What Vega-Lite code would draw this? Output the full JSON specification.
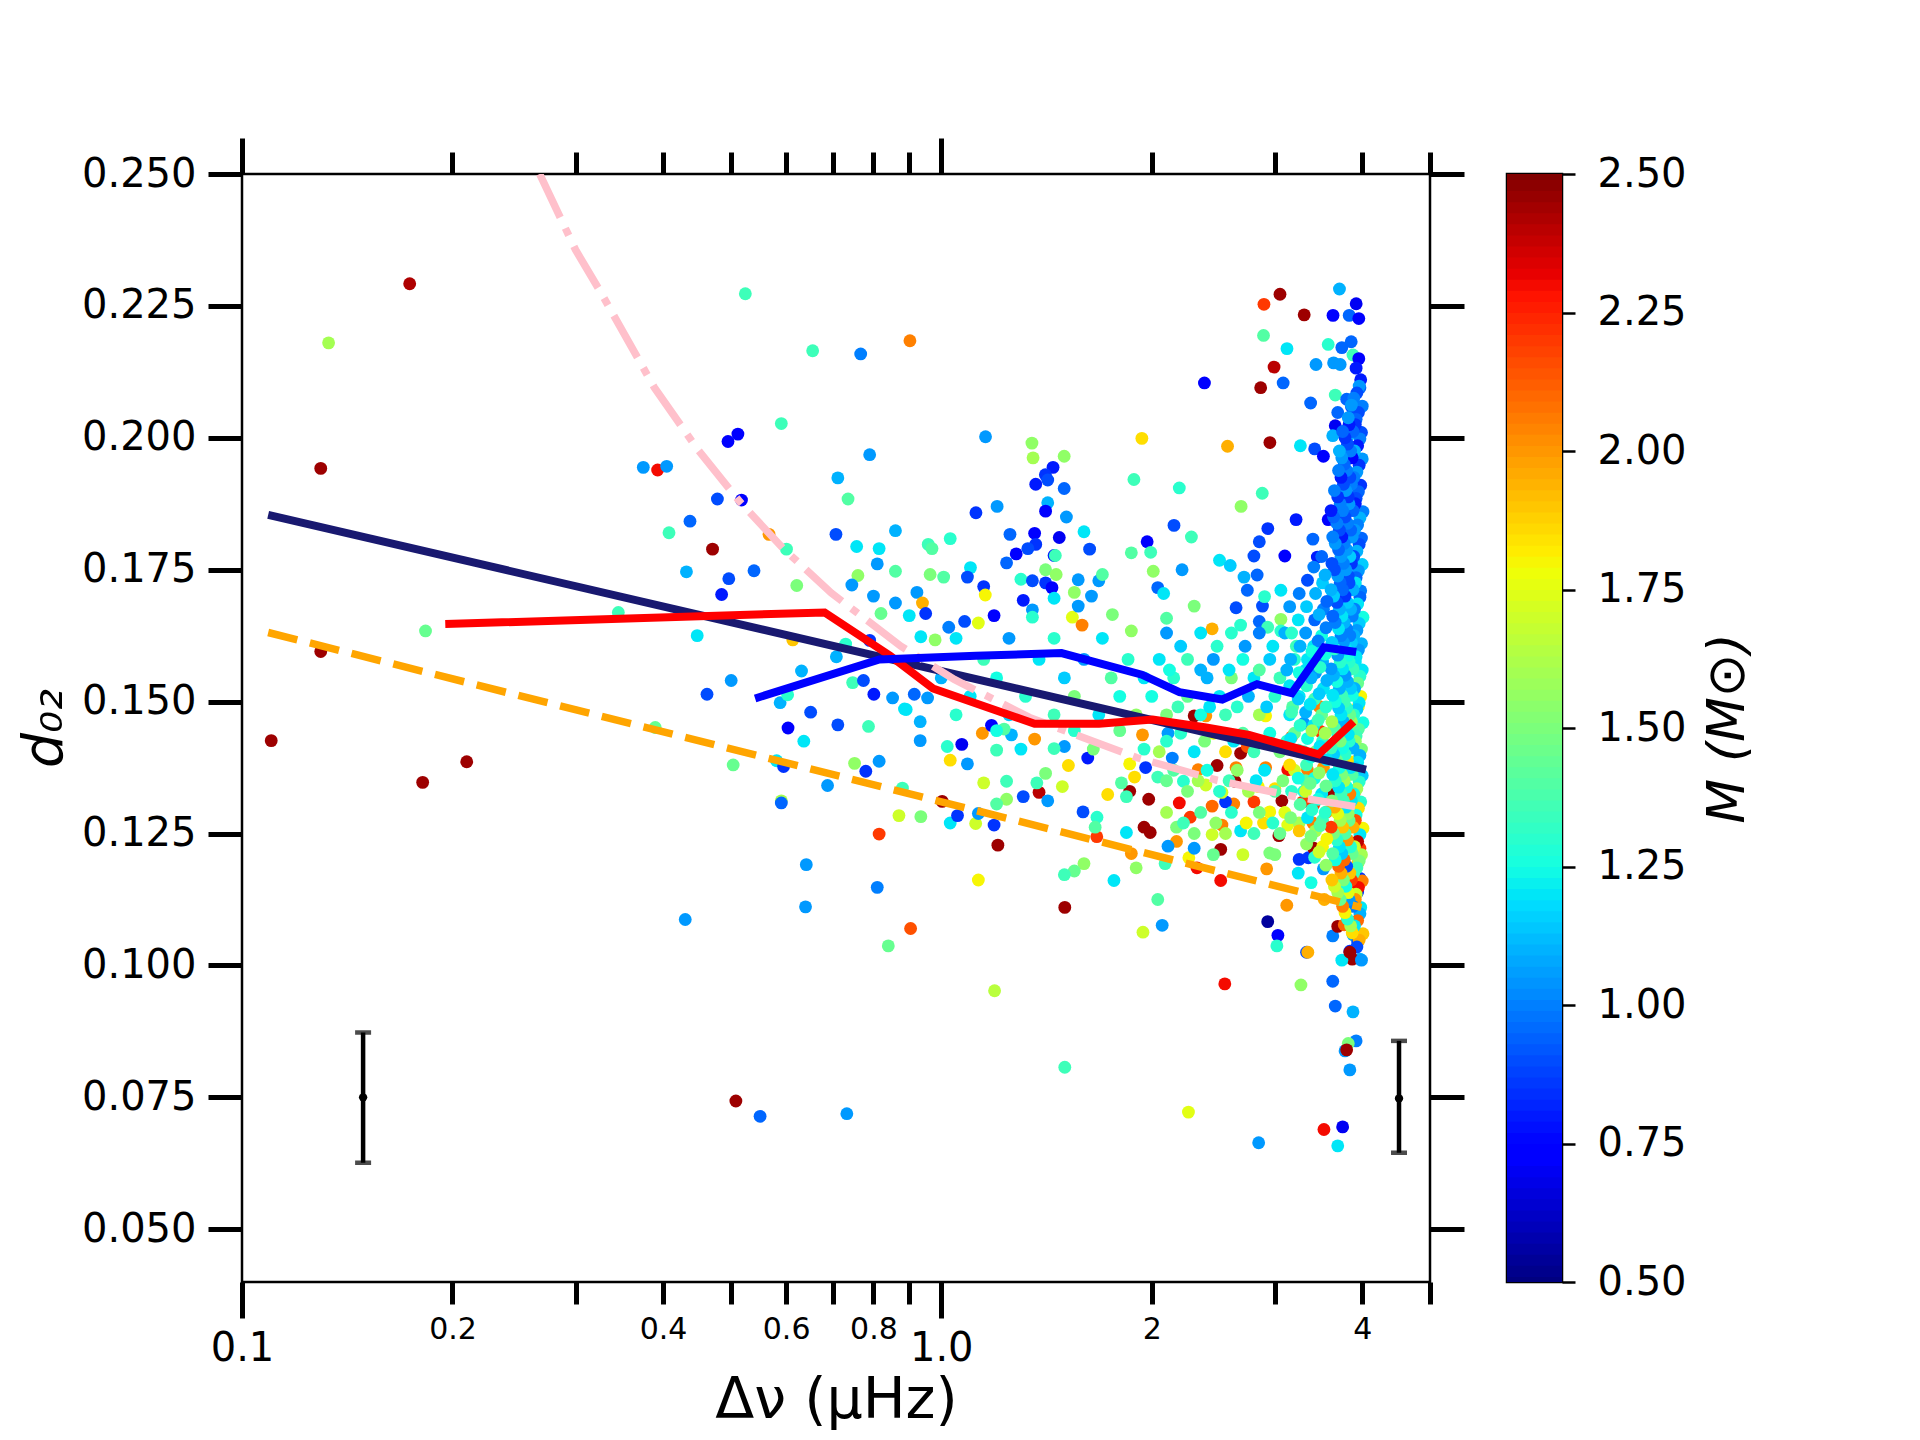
{
  "$schema": "https://vega.github.io/schema/vega-lite/v6.json",
  "background": "white",
  "padding": {"left": 16, "top": 134, "right": 0, "bottom": 0},
  "config": {
    "view": {"stroke": "black", "strokeWidth": 2.5},
    "font": "DejaVu Sans",
    "axis": {"domain": false, "grid": false, "labelColor": "black", "titleColor": "black", "tickColor": "black", "labelFont": "DejaVu Sans", "titleFont": "DejaVu Sans", "titleFontWeight": "normal"}
  },
  "datasets": {
    "stars": [
      {"dnu":0.1737,"d02":0.2292,"M":2.42},{"dnu":0.133,"d02":0.218,"M":1.6},{"dnu":0.1296,"d02":0.1942,"M":2.45},{"dnu":0.183,"d02":0.1634,"M":1.45},
      {"dnu":0.1296,"d02":0.1595,"M":2.45},{"dnu":0.1101,"d02":0.1426,"M":2.45},{"dnu":0.1813,"d02":0.1347,"M":2.45},{"dnu":0.2096,"d02":0.1386,"M":2.45},
      {"dnu":0.5246,"d02":0.2273,"M":1.35},{"dnu":0.6548,"d02":0.2165,"M":1.35},{"dnu":0.767,"d02":0.2159,"M":1.0},{"dnu":0.5906,"d02":0.2027,"M":1.35},
      {"dnu":0.4955,"d02":0.1993,"M":0.75},{"dnu":0.5119,"d02":0.2007,"M":0.75},{"dnu":0.3749,"d02":0.1944,"M":1.05},{"dnu":0.393,"d02":0.1939,"M":2.3},
      {"dnu":0.4049,"d02":0.1946,"M":1.05},{"dnu":0.4785,"d02":0.1884,"M":0.9},{"dnu":0.518,"d02":0.1882,"M":0.75},{"dnu":0.4372,"d02":0.1842,"M":0.95},
      {"dnu":0.408,"d02":0.182,"M":1.35},{"dnu":0.4709,"d02":0.1789,"M":2.45},{"dnu":0.5672,"d02":0.1817,"M":2.0},{"dnu":0.6007,"d02":0.1789,"M":1.35},
      {"dnu":0.4321,"d02":0.1746,"M":1.1},{"dnu":0.4968,"d02":0.1733,"M":0.9},{"dnu":0.4852,"d02":0.1703,"M":0.8},{"dnu":0.5398,"d02":0.1748,"M":0.95},
      {"dnu":0.6214,"d02":0.172,"M":1.5},{"dnu":0.707,"d02":0.1817,"M":0.9},{"dnu":0.7114,"d02":0.1924,"M":1.1},{"dnu":0.7357,"d02":0.1884,"M":1.4},
      {"dnu":0.7569,"d02":0.1794,"M":1.2},{"dnu":0.3453,"d02":0.1669,"M":1.35},{"dnu":0.4477,"d02":0.1625,"M":1.2},{"dnu":0.6133,"d02":0.1617,"M":1.9},
      {"dnu":0.6312,"d02":0.1558,"M":1.1},{"dnu":0.5007,"d02":0.154,"M":1.05},{"dnu":0.4624,"d02":0.1514,"M":0.9},{"dnu":0.5883,"d02":0.1498,"M":1.1},
      {"dnu":0.603,"d02":0.1513,"M":1.3},{"dnu":0.6505,"d02":0.148,"M":0.9},{"dnu":0.6038,"d02":0.145,"M":0.75},{"dnu":0.636,"d02":0.1425,"M":1.2},
      {"dnu":0.7114,"d02":0.1456,"M":0.9},{"dnu":0.3899,"d02":0.1451,"M":1.45},{"dnu":0.504,"d02":0.138,"M":1.45},{"dnu":0.5815,"d02":0.1388,"M":1.2},
      {"dnu":0.595,"d02":0.1377,"M":0.85},{"dnu":0.6877,"d02":0.1341,"M":1.05},{"dnu":0.5906,"d02":0.1312,"M":1.6},{"dnu":0.5906,"d02":0.1308,"M":0.95},
      {"dnu":0.7517,"d02":0.1383,"M":1.55},{"dnu":0.6412,"d02":0.1191,"M":1.05},{"dnu":0.6396,"d02":0.1111,"M":1.05},{"dnu":0.4304,"d02":0.1087,"M":1.05},
      {"dnu":0.5085,"d02":0.0743,"M":2.45},{"dnu":0.5507,"d02":0.0714,"M":0.95},{"dnu":0.7328,"d02":0.0719,"M":1.05},
      {"dnu":0.787,"d02":0.1453,"M":1.35},{"dnu":0.886,"d02":0.1486,"M":1.2},{"dnu":0.933,"d02":0.1462,"M":1.1},{"dnu":0.933,"d02":0.1426,"M":1.05},
      {"dnu":0.815,"d02":0.1387,"M":1.05},{"dnu":0.78,"d02":0.1368,"M":0.85},{"dnu":0.88,"d02":0.1336,"M":1.35},{"dnu":1.003,"d02":0.1311,"M":2.45},
      {"dnu":0.87,"d02":0.1284,"M":1.7},{"dnu":0.935,"d02":0.1282,"M":1.5},{"dnu":1.03,"d02":0.127,"M":1.2},{"dnu":1.055,"d02":0.1284,"M":0.85},
      {"dnu":1.12,"d02":0.1269,"M":1.7},{"dnu":1.19,"d02":0.1266,"M":0.85},{"dnu":1.205,"d02":0.1228,"M":2.45},{"dnu":0.815,"d02":0.1249,"M":2.2},
      {"dnu":0.81,"d02":0.1148,"M":1.0},{"dnu":0.904,"d02":0.107,"M":2.15},{"dnu":0.84,"d02":0.1037,"M":1.45},{"dnu":1.13,"d02":0.1162,"M":1.8},
      {"dnu":1.192,"d02":0.0952,"M":1.65},{"dnu":1.502,"d02":0.111,"M":2.45},{"dnu":1.502,"d02":0.0807,"M":1.35},{"dnu":2.257,"d02":0.0722,"M":1.75},
      {"dnu":2.844,"d02":0.0664,"M":1.05},{"dnu":3.526,"d02":0.0689,"M":2.3},{"dnu":3.75,"d02":0.0694,"M":0.7},{"dnu":3.69,"d02":0.0658,"M":1.2},
      {"dnu":2.544,"d02":0.0965,"M":2.3},{"dnu":3.269,"d02":0.0963,"M":1.55},{"dnu":3.63,"d02":0.097,"M":0.95},{"dnu":3.66,"d02":0.0923,"M":0.95},
      {"dnu":3.88,"d02":0.0912,"M":1.1},{"dnu":3.92,"d02":0.0857,"M":1.0},{"dnu":3.82,"d02":0.0852,"M":1.5},{"dnu":3.78,"d02":0.0838,"M":1.05},
      {"dnu":3.8,"d02":0.084,"M":2.45},{"dnu":3.84,"d02":0.0802,"M":1.05},{"dnu":2.93,"d02":0.1083,"M":0.55},{"dnu":3.03,"d02":0.1057,"M":0.75},
      {"dnu":3.02,"d02":0.1037,"M":1.3},{"dnu":3.33,"d02":0.1025,"M":0.9},{"dnu":3.344,"d02":0.1025,"M":1.95},{"dnu":3.63,"d02":0.1056,"M":1.0},
      {"dnu":3.69,"d02":0.1074,"M":2.45},{"dnu":3.77,"d02":0.1077,"M":2.1},{"dnu":3.88,"d02":0.1058,"M":1.1},{"dnu":3.94,"d02":0.1045,"M":0.9},
      {"dnu":3.84,"d02":0.1027,"M":0.85},{"dnu":3.97,"d02":0.1012,"M":1.1},{"dnu":3.87,"d02":0.1012,"M":2.45},{"dnu":3.74,"d02":0.101,"M":1.2},
      {"dnu":1.943,"d02":0.1063,"M":1.7},{"dnu":2.07,"d02":0.1076,"M":1.05},{"dnu":2.04,"d02":0.1125,"M":1.4},{"dnu":1.766,"d02":0.1161,"M":1.2},
      {"dnu":1.6,"d02":0.1193,"M":1.55},{"dnu":1.55,"d02":0.1179,"M":1.45},{"dnu":1.5,"d02":0.1172,"M":1.35},{"dnu":1.9,"d02":0.1185,"M":1.55},
      {"dnu":2.09,"d02":0.1193,"M":1.35},{"dnu":2.321,"d02":0.1185,"M":2.3},{"dnu":2.51,"d02":0.1161,"M":2.3},{"dnu":2.26,"d02":0.1204,"M":1.8},
      {"dnu":2.92,"d02":0.1183,"M":2.0},{"dnu":3.12,"d02":0.1114,"M":2.0},{"dnu":3.53,"d02":0.1125,"M":1.95},{"dnu":3.75,"d02":0.1125,"M":1.1},
      {"dnu":3.25,"d02":0.1201,"M":0.85},{"dnu":3.35,"d02":0.1204,"M":0.85},{"dnu":3.52,"d02":0.1183,"M":1.05},{"dnu":3.24,"d02":0.1175,"M":1.2},
      {"dnu":3.38,"d02":0.1157,"M":1.25},{"dnu":3.7,"d02":0.115,"M":1.85},{"dnu":3.85,"d02":0.1175,"M":2.0},{"dnu":3.94,"d02":0.1193,"M":1.9},
      {"dnu":3.71,"d02":0.1193,"M":1.85},{"dnu":3.94,"d02":0.1139,"M":0.85},{"dnu":3.97,"d02":0.1165,"M":0.85},{"dnu":2.95,"d02":0.1213,"M":1.5},
      {"dnu":3.41,"d02":0.1222,"M":2.45},{"dnu":2.51,"d02":0.122,"M":2.45},{"dnu":3.04,"d02":0.1246,"M":2.45},{"dnu":3.69,"d02":0.1259,"M":2.45},
      {"dnu":3.97,"d02":0.1222,"M":2.2},{"dnu":2.17,"d02":0.1235,"M":2.0},{"dnu":2.11,"d02":0.1226,"M":1.05},{"dnu":2.3,"d02":0.1222,"M":1.05},
      {"dnu":2.44,"d02":0.1248,"M":1.7},{"dnu":2.27,"d02":0.1281,"M":2.2},{"dnu":2.19,"d02":0.1308,"M":2.3},{"dnu":1.98,"d02":0.1315,"M":2.45},
      {"dnu":1.86,"d02":0.133,"M":2.45},{"dnu":1.95,"d02":0.1262,"M":2.45},{"dnu":1.99,"d02":0.1252,"M":2.45},{"dnu":1.669,"d02":0.1244,"M":2.2},
      {"dnu":1.84,"d02":0.1252,"M":1.2},{"dnu":1.87,"d02":0.1212,"M":2.0},{"dnu":2.17,"d02":0.1262,"M":1.5},{"dnu":2.52,"d02":0.1266,"M":2.05},
      {"dnu":2.68,"d02":0.1255,"M":1.2},{"dnu":2.44,"d02":0.1302,"M":2.1},{"dnu":2.62,"d02":0.1306,"M":2.05},{"dnu":2.8,"d02":0.131,"M":2.2},
      {"dnu":3.07,"d02":0.1312,"M":2.45},{"dnu":3.29,"d02":0.131,"M":2.2},{"dnu":2.95,"d02":0.1291,"M":1.8},{"dnu":2.89,"d02":0.127,"M":1.85},
      {"dnu":3.13,"d02":0.1266,"M":1.75},{"dnu":3.4,"d02":0.127,"M":2.05},{"dnu":3.56,"d02":0.1291,"M":2.0},{"dnu":3.9,"d02":0.1328,"M":2.05},
      {"dnu":3.62,"d02":0.1324,"M":2.45},{"dnu":3.72,"d02":0.1357,"M":2.3},{"dnu":3.9,"d02":0.1386,"M":1.8},{"dnu":3.34,"d02":0.1371,"M":2.05},
      {"dnu":3.13,"d02":0.1371,"M":2.3},{"dnu":2.68,"d02":0.1402,"M":2.45},{"dnu":2.74,"d02":0.1415,"M":2.15},{"dnu":2.48,"d02":0.1379,"M":2.45},
      {"dnu":2.64,"d02":0.1375,"M":2.05},{"dnu":2.63,"d02":0.1349,"M":2.45},{"dnu":2.3,"d02":0.1473,"M":2.45},{"dnu":2.39,"d02":0.1473,"M":2.0},
      {"dnu":3.47,"d02":0.1491,"M":2.05},{"dnu":3.95,"d02":0.1491,"M":1.8},{"dnu":3.72,"d02":0.1422,"M":2.45},{"dnu":3.48,"d02":0.1444,"M":2.2},
      {"dnu":1.94,"d02":0.1437,"M":2.0},{"dnu":2.11,"d02":0.144,"M":1.05},{"dnu":1.145,"d02":0.144,"M":2.0},{"dnu":1.18,"d02":0.1455,"M":0.75},
      {"dnu":1.07,"d02":0.1419,"M":0.7},{"dnu":1.03,"d02":0.1389,"M":1.85},{"dnu":1.09,"d02":0.1382,"M":1.05},{"dnu":1.02,"d02":0.1415,"M":1.3},
      {"dnu":1.15,"d02":0.1346,"M":1.7},{"dnu":1.24,"d02":0.1349,"M":1.35},{"dnu":1.24,"d02":0.1315,"M":1.55},{"dnu":1.31,"d02":0.132,"M":0.9},
      {"dnu":1.38,"d02":0.1328,"M":2.4},{"dnu":1.42,"d02":0.1312,"M":1.05},{"dnu":1.37,"d02":0.1346,"M":1.35},{"dnu":1.41,"d02":0.1364,"M":1.5},
      {"dnu":1.49,"d02":0.1339,"M":1.7},{"dnu":1.52,"d02":0.1379,"M":1.85},{"dnu":1.62,"d02":0.1393,"M":0.8},{"dnu":1.5,"d02":0.1415,"M":1.05},
      {"dnu":1.45,"d02":0.1411,"M":1.35},{"dnu":1.36,"d02":0.1429,"M":2.0},{"dnu":1.26,"d02":0.1437,"M":1.1},{"dnu":1.23,"d02":0.1448,"M":1.4},
      {"dnu":1.2,"d02":0.1408,"M":1.35},{"dnu":1.2,"d02":0.1306,"M":1.4},{"dnu":1.13,"d02":0.1288,"M":1.05},{"dnu":1.595,"d02":0.1291,"M":0.9},
      {"dnu":1.67,"d02":0.1281,"M":1.3},{"dnu":1.66,"d02":0.1262,"M":1.4},{"dnu":1.73,"d02":0.1324,"M":1.85},{"dnu":1.81,"d02":0.1346,"M":1.4},
      {"dnu":1.84,"d02":0.132,"M":1.35},{"dnu":1.89,"d02":0.1357,"M":1.85},{"dnu":1.86,"d02":0.1382,"M":1.8},{"dnu":1.96,"d02":0.1375,"M":0.85},
      {"dnu":2.04,"d02":0.1357,"M":1.35},{"dnu":2.14,"d02":0.1393,"M":1.0},{"dnu":2.22,"d02":0.1349,"M":1.3},{"dnu":2.33,"d02":0.1371,"M":2.05},
      {"dnu":2.39,"d02":0.1342,"M":1.7},{"dnu":2.55,"d02":0.131,"M":0.85},{"dnu":2.52,"d02":0.1328,"M":1.7},{"dnu":2.84,"d02":0.1339,"M":1.8},
      {"dnu":3.0,"d02":0.1335,"M":1.85},{"dnu":2.91,"d02":0.1375,"M":2.05},{"dnu":3.24,"d02":0.1408,"M":1.3},{"dnu":3.17,"d02":0.1433,"M":2.1},
      {"dnu":3.3,"d02":0.1459,"M":1.05},{"dnu":2.91,"d02":0.1473,"M":1.8},
      {"dnu":0.902,"d02":0.2184,"M":2.05},{"dnu":1.157,"d02":0.2002,"M":1.05},{"dnu":0.79,"d02":0.1968,"M":1.05},{"dnu":1.348,"d02":0.199,"M":1.55},
      {"dnu":1.353,"d02":0.1962,"M":1.6},{"dnu":1.499,"d02":0.1965,"M":1.55},{"dnu":1.445,"d02":0.1944,"M":0.8},{"dnu":1.409,"d02":0.193,"M":0.85},
      {"dnu":1.42,"d02":0.192,"M":0.9},{"dnu":1.365,"d02":0.1912,"M":0.8},{"dnu":1.499,"d02":0.1904,"M":0.95},{"dnu":1.42,"d02":0.1877,"M":1.1},
      {"dnu":1.41,"d02":0.1861,"M":0.75},{"dnu":1.51,"d02":0.185,"M":1.05},{"dnu":1.202,"d02":0.187,"M":1.05},{"dnu":1.121,"d02":0.1858,"M":0.85},
      {"dnu":1.936,"d02":0.1999,"M":1.85},{"dnu":2.567,"d02":0.1984,"M":1.95},{"dnu":2.951,"d02":0.1991,"M":2.45},{"dnu":2.379,"d02":0.2104,"M":0.75},
      {"dnu":2.894,"d02":0.2253,"M":2.2},{"dnu":3.051,"d02":0.2272,"M":2.45},{"dnu":3.304,"d02":0.2233,"M":2.45},{"dnu":2.89,"d02":0.2194,"M":1.4},
      {"dnu":3.122,"d02":0.2169,"M":1.2},{"dnu":2.992,"d02":0.2134,"M":2.4},{"dnu":2.863,"d02":0.2095,"M":2.45},{"dnu":3.083,"d02":0.2104,"M":0.95},
      {"dnu":3.375,"d02":0.2066,"M":0.95},{"dnu":3.711,"d02":0.2282,"M":1.1},{"dnu":3.633,"d02":0.2232,"M":0.75},{"dnu":3.832,"d02":0.2232,"M":0.95},
      {"dnu":3.921,"d02":0.2254,"M":0.7},{"dnu":3.955,"d02":0.2226,"M":0.75},{"dnu":3.576,"d02":0.2177,"M":1.3},{"dnu":3.857,"d02":0.2182,"M":0.95},
      {"dnu":3.74,"d02":0.2171,"M":0.95},{"dnu":3.88,"d02":0.2157,"M":1.35},{"dnu":3.955,"d02":0.215,"M":0.75},{"dnu":3.435,"d02":0.2139,"M":1.05},
      {"dnu":3.64,"d02":0.2142,"M":1.05},{"dnu":3.72,"d02":0.2139,"M":1.05},{"dnu":3.92,"d02":0.2132,"M":0.8},{"dnu":3.97,"d02":0.2095,"M":0.95},
      {"dnu":3.66,"d02":0.2081,"M":1.35},{"dnu":3.8,"d02":0.2073,"M":0.95},{"dnu":3.86,"d02":0.2059,"M":0.9},{"dnu":3.69,"d02":0.2048,"M":0.95},
      {"dnu":3.66,"d02":0.2023,"M":0.7},{"dnu":3.63,"d02":0.2004,"M":1.1},{"dnu":3.82,"d02":0.2004,"M":1.1},{"dnu":3.97,"d02":0.201,"M":1.1},
      {"dnu":3.263,"d02":0.1985,"M":1.2},{"dnu":3.42,"d02":0.1979,"M":0.9},{"dnu":3.52,"d02":0.1965,"M":0.75},{"dnu":2.878,"d02":0.1895,"M":1.35},
      {"dnu":2.684,"d02":0.187,"M":1.55},{"dnu":2.19,"d02":0.1905,"M":1.3},{"dnu":1.886,"d02":0.1921,"M":1.35},{"dnu":2.152,"d02":0.1834,"M":0.9},
      {"dnu":2.279,"d02":0.1812,"M":1.35},{"dnu":1.97,"d02":0.1803,"M":0.75},{"dnu":1.993,"d02":0.1783,"M":1.35},{"dnu":1.87,"d02":0.1782,"M":1.4},
      {"dnu":2.931,"d02":0.1828,"M":0.85},{"dnu":3.217,"d02":0.1845,"M":0.8},{"dnu":3.576,"d02":0.1845,"M":0.75},{"dnu":2.85,"d02":0.1803,"M":0.9},
      {"dnu":3.4,"d02":0.1808,"M":0.95},{"dnu":2.8,"d02":0.1776,"M":0.9},{"dnu":3.1,"d02":0.1776,"M":0.75},{"dnu":3.45,"d02":0.1774,"M":0.8},
      {"dnu":2.5,"d02":0.1768,"M":1.2},{"dnu":2.59,"d02":0.1758,"M":1.15},{"dnu":2.71,"d02":0.1736,"M":1.1},{"dnu":2.83,"d02":0.174,"M":0.95},
      {"dnu":3.06,"d02":0.1711,"M":1.2},{"dnu":2.74,"d02":0.1711,"M":0.95},{"dnu":2.21,"d02":0.175,"M":1.05},{"dnu":2.01,"d02":0.1747,"M":1.55},
      {"dnu":2.04,"d02":0.1716,"M":0.95},{"dnu":2.08,"d02":0.1705,"M":1.2},{"dnu":2.3,"d02":0.1681,"M":1.5},{"dnu":2.1,"d02":0.1658,"M":1.4},
      {"dnu":1.757,"d02":0.1665,"M":1.5},{"dnu":1.87,"d02":0.1634,"M":1.55},{"dnu":2.44,"d02":0.1638,"M":1.95},{"dnu":2.68,"d02":0.1645,"M":1.3},
      {"dnu":2.85,"d02":0.1652,"M":0.95},{"dnu":2.93,"d02":0.1641,"M":1.35},{"dnu":2.64,"d02":0.1678,"M":0.9},{"dnu":2.88,"d02":0.1681,"M":0.9},
      {"dnu":2.9,"d02":0.1699,"M":1.3},{"dnu":3.06,"d02":0.1656,"M":1.55},{"dnu":3.06,"d02":0.1634,"M":1.3},
      {"dnu":1.254,"d02":0.1817,"M":0.95},{"dnu":1.36,"d02":0.1819,"M":0.75},{"dnu":1.475,"d02":0.1811,"M":0.7},{"dnu":1.365,"d02":0.1798,"M":0.85},
      {"dnu":1.6,"d02":0.1822,"M":1.2},{"dnu":1.63,"d02":0.1789,"M":0.9},{"dnu":1.45,"d02":0.1777,"M":0.8},{"dnu":1.456,"d02":0.1777,"M":1.35},
      {"dnu":1.28,"d02":0.178,"M":0.75},{"dnu":1.24,"d02":0.1763,"M":0.95},{"dnu":1.33,"d02":0.179,"M":0.9},{"dnu":1.41,"d02":0.175,"M":1.5},
      {"dnu":1.46,"d02":0.1741,"M":1.55},{"dnu":1.3,"d02":0.1732,"M":1.3},{"dnu":1.35,"d02":0.1729,"M":0.9},{"dnu":1.41,"d02":0.1725,"M":0.85},
      {"dnu":1.44,"d02":0.1716,"M":0.75},{"dnu":1.45,"d02":0.1696,"M":1.2},{"dnu":1.31,"d02":0.1692,"M":0.8},{"dnu":1.35,"d02":0.1674,"M":1.05},
      {"dnu":1.57,"d02":0.1731,"M":1.05},{"dnu":1.68,"d02":0.1729,"M":1.05},{"dnu":1.7,"d02":0.1741,"M":1.4},{"dnu":1.64,"d02":0.17,"M":1.05},
      {"dnu":1.55,"d02":0.1707,"M":1.55},{"dnu":1.54,"d02":0.166,"M":1.75},{"dnu":1.59,"d02":0.1645,"M":2.05},{"dnu":1.57,"d02":0.1681,"M":1.05},
      {"dnu":1.101,"d02":0.1754,"M":1.2},{"dnu":1.09,"d02":0.1736,"M":0.9},{"dnu":1.15,"d02":0.1718,"M":0.85},{"dnu":1.156,"d02":0.1702,"M":1.8},
      {"dnu":1.008,"d02":0.1736,"M":1.4},{"dnu":0.964,"d02":0.1741,"M":1.5},{"dnu":0.923,"d02":0.1707,"M":1.05},{"dnu":0.94,"d02":0.1687,"M":1.95},
      {"dnu":0.95,"d02":0.1667,"M":0.85},{"dnu":0.86,"d02":0.1747,"M":1.4},{"dnu":0.86,"d02":0.1824,"M":1.1},{"dnu":0.815,"d02":0.179,"M":1.2},
      {"dnu":0.958,"d02":0.1798,"M":1.35},{"dnu":0.97,"d02":0.179,"M":1.4},{"dnu":0.81,"d02":0.1761,"M":1.05},{"dnu":0.76,"d02":0.1739,"M":1.55},
      {"dnu":0.745,"d02":0.1721,"M":1.05},{"dnu":0.8,"d02":0.17,"M":1.05},{"dnu":0.86,"d02":0.1687,"M":1.05},{"dnu":0.9,"d02":0.1663,"M":1.2},
      {"dnu":0.82,"d02":0.1667,"M":1.45},{"dnu":1.025,"d02":0.1641,"M":1.0},{"dnu":1.08,"d02":0.1652,"M":0.9},{"dnu":1.13,"d02":0.1649,"M":1.75},
      {"dnu":1.19,"d02":0.1663,"M":0.75},{"dnu":1.35,"d02":0.166,"M":1.3},{"dnu":1.03,"d02":0.1809,"M":1.3},{"dnu":0.935,"d02":0.1623,"M":1.2},
      {"dnu":0.98,"d02":0.1617,"M":1.55},
      {"dnu":0.747,"d02":0.1536,"M":1.35},{"dnu":0.774,"d02":0.154,"M":0.9},{"dnu":0.801,"d02":0.1514,"M":0.8},{"dnu":0.852,"d02":0.1507,"M":1.05},
      {"dnu":0.891,"d02":0.1485,"M":1.2},{"dnu":0.915,"d02":0.1514,"M":0.95},{"dnu":0.956,"d02":0.1507,"M":1.05},{"dnu":0.708,"d02":0.1585,"M":1.1},
      {"dnu":0.73,"d02":0.1609,"M":1.3},{"dnu":0.79,"d02":0.1616,"M":0.85},
      {"dnu":1.05,"d02":0.162,"M":1.2},{"dnu":1.25,"d02":0.162,"M":1.05},{"dnu":1.45,"d02":0.162,"M":1.3},{"dnu":1.7,"d02":0.162,"M":1.2},
      {"dnu":1.15,"d02":0.158,"M":1.35},{"dnu":1.38,"d02":0.158,"M":1.2},{"dnu":1.6,"d02":0.158,"M":1.05},{"dnu":1.85,"d02":0.158,"M":1.3},
      {"dnu":1.0,"d02":0.1545,"M":1.1},{"dnu":1.2,"d02":0.1545,"M":1.25},{"dnu":1.5,"d02":0.1545,"M":1.15},{"dnu":1.75,"d02":0.1545,"M":1.4},
      {"dnu":1.95,"d02":0.1545,"M":1.2},{"dnu":1.1,"d02":0.151,"M":1.2},{"dnu":1.32,"d02":0.151,"M":1.3},{"dnu":1.55,"d02":0.151,"M":1.5},
      {"dnu":1.8,"d02":0.151,"M":1.25},{"dnu":1.05,"d02":0.1475,"M":1.3},{"dnu":1.25,"d02":0.1475,"M":1.15},{"dnu":1.45,"d02":0.1475,"M":1.35},
      {"dnu":1.68,"d02":0.1475,"M":1.2},{"dnu":1.9,"d02":0.1475,"M":1.55},{"dnu":1.2,"d02":0.1445,"M":1.25},{"dnu":1.55,"d02":0.1445,"M":1.3},
      {"dnu":1.8,"d02":0.1445,"M":1.45},{"dnu":1.3,"d02":0.141,"M":1.2},{"dnu":1.65,"d02":0.141,"M":1.5},{"dnu":1.95,"d02":0.141,"M":1.3},
      {"dnu":2.1,"d02":0.163,"M":1.05},{"dnu":2.35,"d02":0.163,"M":1.2},{"dnu":2.6,"d02":0.163,"M":1.3},{"dnu":2.85,"d02":0.163,"M":1.0},
      {"dnu":3.1,"d02":0.163,"M":1.1},{"dnu":2.05,"d02":0.158,"M":1.2},{"dnu":2.25,"d02":0.158,"M":1.35},{"dnu":2.45,"d02":0.158,"M":1.05},
      {"dnu":2.7,"d02":0.158,"M":1.25},{"dnu":2.95,"d02":0.158,"M":1.15},{"dnu":3.2,"d02":0.158,"M":1.3},{"dnu":2.15,"d02":0.1545,"M":1.3},
      {"dnu":2.4,"d02":0.1545,"M":1.1},{"dnu":2.6,"d02":0.1545,"M":1.5},{"dnu":2.8,"d02":0.1545,"M":1.2},{"dnu":3.05,"d02":0.1545,"M":1.35},
      {"dnu":3.3,"d02":0.1545,"M":1.0},{"dnu":2.0,"d02":0.151,"M":1.25},{"dnu":2.25,"d02":0.151,"M":1.45},{"dnu":2.5,"d02":0.151,"M":1.2},
      {"dnu":2.75,"d02":0.151,"M":1.1},{"dnu":3.0,"d02":0.151,"M":1.3},{"dnu":3.25,"d02":0.151,"M":1.2},{"dnu":2.1,"d02":0.1475,"M":1.5},
      {"dnu":2.35,"d02":0.1475,"M":1.25},{"dnu":2.55,"d02":0.1475,"M":1.35},{"dnu":2.85,"d02":0.1475,"M":1.6},{"dnu":3.15,"d02":0.1475,"M":1.2},
      {"dnu":2.2,"d02":0.144,"M":1.3},{"dnu":2.45,"d02":0.144,"M":1.75},{"dnu":2.7,"d02":0.144,"M":1.4},{"dnu":2.95,"d02":0.144,"M":1.25},
      {"dnu":3.2,"d02":0.144,"M":1.45},{"dnu":2.05,"d02":0.1405,"M":1.6},{"dnu":2.3,"d02":0.1405,"M":1.2},{"dnu":2.55,"d02":0.1405,"M":1.85},
      {"dnu":2.8,"d02":0.1405,"M":1.35},{"dnu":3.05,"d02":0.1405,"M":1.5},{"dnu":3.3,"d02":0.1405,"M":1.3},{"dnu":2.15,"d02":0.137,"M":1.4},
      {"dnu":2.4,"d02":0.137,"M":1.25},{"dnu":2.65,"d02":0.137,"M":1.55},{"dnu":2.9,"d02":0.137,"M":1.2},{"dnu":3.2,"d02":0.137,"M":1.7},
      {"dnu":2.25,"d02":0.133,"M":1.5},{"dnu":2.5,"d02":0.133,"M":1.3},{"dnu":2.75,"d02":0.133,"M":1.6},{"dnu":3.0,"d02":0.133,"M":1.4},
      {"dnu":3.3,"d02":0.133,"M":1.25},{"dnu":2.1,"d02":0.129,"M":1.6},{"dnu":2.35,"d02":0.129,"M":1.4},{"dnu":2.6,"d02":0.129,"M":1.3},
      {"dnu":2.85,"d02":0.129,"M":1.5},{"dnu":3.1,"d02":0.129,"M":1.75},{"dnu":2.3,"d02":0.125,"M":1.5},{"dnu":2.55,"d02":0.125,"M":1.6},
      {"dnu":2.8,"d02":0.125,"M":1.35},{"dnu":3.05,"d02":0.125,"M":1.45},{"dnu":2.45,"d02":0.121,"M":1.45},{"dnu":2.7,"d02":0.121,"M":1.7},
      {"dnu":3.0,"d02":0.121,"M":1.5},
      {"dnu":2.2,"d02":0.1605,"M":1.15},{"dnu":2.48,"d02":0.1605,"M":1.3},{"dnu":2.72,"d02":0.1605,"M":1.05},{"dnu":2.98,"d02":0.1605,"M":1.2},
      {"dnu":3.22,"d02":0.1605,"M":1.35},{"dnu":2.12,"d02":0.156,"M":1.25},{"dnu":2.35,"d02":0.156,"M":1.1},{"dnu":2.58,"d02":0.156,"M":1.2},
      {"dnu":2.85,"d02":0.156,"M":1.4},{"dnu":3.12,"d02":0.156,"M":1.1},{"dnu":3.32,"d02":0.156,"M":1.2},{"dnu":2.18,"d02":0.149,"M":1.35},
      {"dnu":2.42,"d02":0.149,"M":1.2},{"dnu":2.65,"d02":0.149,"M":1.3},{"dnu":2.92,"d02":0.149,"M":1.15},{"dnu":3.18,"d02":0.149,"M":1.4},
      {"dnu":2.1,"d02":0.1425,"M":1.3},{"dnu":2.38,"d02":0.1425,"M":1.5},{"dnu":2.62,"d02":0.1425,"M":1.2},{"dnu":2.88,"d02":0.1425,"M":1.6},
      {"dnu":3.12,"d02":0.1425,"M":1.3},{"dnu":2.1,"d02":0.135,"M":1.45},{"dnu":2.33,"d02":0.135,"M":1.6},{"dnu":2.58,"d02":0.135,"M":1.35},
      {"dnu":2.82,"d02":0.135,"M":1.2},{"dnu":3.08,"d02":0.135,"M":1.5},{"dnu":3.32,"d02":0.135,"M":1.4},{"dnu":2.22,"d02":0.127,"M":1.35},
      {"dnu":2.47,"d02":0.127,"M":1.55},{"dnu":2.73,"d02":0.127,"M":1.8},{"dnu":2.98,"d02":0.127,"M":1.3},{"dnu":3.25,"d02":0.127,"M":1.6},
      {"dnu":3.51,"d02":0.1225,"M":1.8},{"dnu":3.51,"d02":0.1275,"M":1.35},{"dnu":3.5,"d02":0.1325,"M":1.2},{"dnu":3.52,"d02":0.1375,"M":2.0},
      {"dnu":3.51,"d02":0.1425,"M":1.3},{"dnu":3.5,"d02":0.1475,"M":1.45},{"dnu":3.52,"d02":0.1525,"M":1.2},{"dnu":3.51,"d02":0.1575,"M":1.1},
      {"dnu":3.5,"d02":0.1625,"M":1.25},{"dnu":3.52,"d02":0.1675,"M":1.0},{"dnu":3.51,"d02":0.1725,"M":1.15},{"dnu":3.5,"d02":0.1775,"M":0.95},
      {"dnu":3.42,"d02":0.1205,"M":1.3},{"dnu":3.43,"d02":0.1255,"M":1.6},{"dnu":3.41,"d02":0.1305,"M":2.2},{"dnu":3.42,"d02":0.1355,"M":1.25},
      {"dnu":3.43,"d02":0.1405,"M":1.5},{"dnu":3.41,"d02":0.1455,"M":1.2},{"dnu":3.42,"d02":0.1505,"M":1.35},{"dnu":3.43,"d02":0.1555,"M":1.05},
      {"dnu":3.41,"d02":0.1605,"M":1.2},{"dnu":3.42,"d02":0.1655,"M":0.95},{"dnu":3.43,"d02":0.1705,"M":1.1},{"dnu":3.41,"d02":0.1755,"M":1.0},
      {"dnu":3.33,"d02":0.123,"M":1.55},{"dnu":3.34,"d02":0.128,"M":1.2},{"dnu":3.32,"d02":0.133,"M":1.7},{"dnu":3.33,"d02":0.138,"M":1.35},
      {"dnu":3.34,"d02":0.143,"M":1.25},{"dnu":3.32,"d02":0.148,"M":1.1},{"dnu":3.33,"d02":0.153,"M":1.3},{"dnu":3.34,"d02":0.158,"M":1.2},
      {"dnu":3.32,"d02":0.163,"M":1.05},{"dnu":3.33,"d02":0.168,"M":1.15},{"dnu":3.34,"d02":0.173,"M":0.9},
      {"dnu":3.25,"d02":0.1255,"M":1.9},{"dnu":3.26,"d02":0.1305,"M":1.4},{"dnu":3.24,"d02":0.1355,"M":1.25},{"dnu":3.25,"d02":0.1405,"M":1.6},
      {"dnu":3.26,"d02":0.1455,"M":1.3},{"dnu":3.24,"d02":0.1505,"M":1.15},{"dnu":3.25,"d02":0.1555,"M":1.25},{"dnu":3.26,"d02":0.1605,"M":1.1},
      {"dnu":3.24,"d02":0.1655,"M":1.2},{"dnu":3.25,"d02":0.1705,"M":1.0},
      {"dnu":3.16,"d02":0.128,"M":1.5},{"dnu":3.17,"d02":0.133,"M":1.3},{"dnu":3.15,"d02":0.138,"M":1.85},{"dnu":3.16,"d02":0.143,"M":1.2},
      {"dnu":3.17,"d02":0.148,"M":1.35},{"dnu":3.15,"d02":0.153,"M":1.2},{"dnu":3.16,"d02":0.158,"M":1.1},{"dnu":3.17,"d02":0.163,"M":1.3},
      {"dnu":3.15,"d02":0.168,"M":1.05},
      {"dnu":3.99,"d02":0.101,"M":1.05},{"dnu":4.01,"d02":0.106,"M":1.9},{"dnu":3.98,"d02":0.111,"M":1.2},{"dnu":4.0,"d02":0.116,"M":2.05},
      {"dnu":3.99,"d02":0.121,"M":1.6},{"dnu":4.01,"d02":0.126,"M":1.8},{"dnu":3.98,"d02":0.131,"M":1.3},{"dnu":4.0,"d02":0.136,"M":1.15},
      {"dnu":3.99,"d02":0.141,"M":1.5},{"dnu":4.01,"d02":0.146,"M":1.25},{"dnu":3.98,"d02":0.151,"M":1.8},{"dnu":4.0,"d02":0.156,"M":1.2},
      {"dnu":3.99,"d02":0.161,"M":1.1},{"dnu":4.01,"d02":0.166,"M":1.25},{"dnu":3.98,"d02":0.171,"M":1.0},{"dnu":4.0,"d02":0.176,"M":1.15},
      {"dnu":3.99,"d02":0.181,"M":0.95},{"dnu":4.01,"d02":0.186,"M":1.0},{"dnu":3.98,"d02":0.191,"M":0.85},{"dnu":4.0,"d02":0.196,"M":1.05},
      {"dnu":3.99,"d02":0.201,"M":0.9},{"dnu":4.0,"d02":0.206,"M":1.0},{"dnu":3.98,"d02":0.211,"M":0.8},
      {"dnu":3.96,"d02":0.1048,"M":1.95},{"dnu":3.97,"d02":0.1098,"M":1.1},{"dnu":3.95,"d02":0.1148,"M":2.3},{"dnu":3.96,"d02":0.1198,"M":1.5},
      {"dnu":3.97,"d02":0.1248,"M":1.2},{"dnu":3.95,"d02":0.1298,"M":1.85},{"dnu":3.96,"d02":0.1348,"M":1.3},{"dnu":3.97,"d02":0.1398,"M":1.1},
      {"dnu":3.95,"d02":0.1448,"M":1.4},{"dnu":3.96,"d02":0.1498,"M":1.2},{"dnu":3.97,"d02":0.1548,"M":1.3},{"dnu":3.95,"d02":0.1598,"M":1.05},
      {"dnu":3.96,"d02":0.1648,"M":1.15},{"dnu":3.97,"d02":0.1698,"M":0.95},{"dnu":3.95,"d02":0.1748,"M":1.05},{"dnu":3.96,"d02":0.1798,"M":0.9},
      {"dnu":3.97,"d02":0.1848,"M":1.1},{"dnu":3.95,"d02":0.1898,"M":0.95},{"dnu":3.96,"d02":0.1948,"M":0.85},{"dnu":3.97,"d02":0.1998,"M":1.0},
      {"dnu":3.95,"d02":0.2048,"M":0.9},{"dnu":3.96,"d02":0.2098,"M":1.05},
      {"dnu":3.93,"d02":0.1035,"M":0.9},{"dnu":3.94,"d02":0.1085,"M":2.1},{"dnu":3.92,"d02":0.1135,"M":1.7},{"dnu":3.93,"d02":0.1185,"M":1.35},
      {"dnu":3.94,"d02":0.1235,"M":2.4},{"dnu":3.92,"d02":0.1285,"M":1.25},{"dnu":3.93,"d02":0.1335,"M":1.6},{"dnu":3.94,"d02":0.1385,"M":1.2},
      {"dnu":3.92,"d02":0.1435,"M":1.35},{"dnu":3.93,"d02":0.1485,"M":1.15},{"dnu":3.94,"d02":0.1535,"M":1.45},{"dnu":3.92,"d02":0.1585,"M":1.2},
      {"dnu":3.93,"d02":0.1635,"M":1.05},{"dnu":3.94,"d02":0.1685,"M":1.2},{"dnu":3.92,"d02":0.1735,"M":0.95},{"dnu":3.93,"d02":0.1785,"M":1.1},
      {"dnu":3.94,"d02":0.1835,"M":1.0},{"dnu":3.92,"d02":0.1885,"M":0.9},{"dnu":3.93,"d02":0.1935,"M":1.05},{"dnu":3.94,"d02":0.1985,"M":0.8},
      {"dnu":3.92,"d02":0.2035,"M":0.95},{"dnu":3.93,"d02":0.2085,"M":0.9},
      {"dnu":3.9,"d02":0.1075,"M":1.2},{"dnu":3.91,"d02":0.1125,"M":2.0},{"dnu":3.89,"d02":0.1175,"M":1.35},{"dnu":3.9,"d02":0.1225,"M":1.7},
      {"dnu":3.91,"d02":0.1275,"M":2.15},{"dnu":3.89,"d02":0.1325,"M":1.25},{"dnu":3.9,"d02":0.1375,"M":1.15},{"dnu":3.91,"d02":0.1425,"M":1.55},
      {"dnu":3.89,"d02":0.1475,"M":1.3},{"dnu":3.9,"d02":0.1525,"M":1.1},{"dnu":3.91,"d02":0.1575,"M":1.2},{"dnu":3.89,"d02":0.1625,"M":1.1},
      {"dnu":3.9,"d02":0.1675,"M":1.0},{"dnu":3.91,"d02":0.1725,"M":1.2},{"dnu":3.89,"d02":0.1775,"M":0.9},{"dnu":3.9,"d02":0.1825,"M":1.05},
      {"dnu":3.91,"d02":0.1875,"M":0.8},{"dnu":3.89,"d02":0.1925,"M":1.0},{"dnu":3.9,"d02":0.1975,"M":1.1},{"dnu":3.91,"d02":0.2025,"M":0.85},
      {"dnu":3.89,"d02":0.2075,"M":1.0},
      {"dnu":3.87,"d02":0.1062,"M":1.85},{"dnu":3.88,"d02":0.1112,"M":1.0},{"dnu":3.86,"d02":0.1162,"M":2.2},{"dnu":3.87,"d02":0.1212,"M":1.45},
      {"dnu":3.88,"d02":0.1262,"M":1.95},{"dnu":3.86,"d02":0.1312,"M":1.2},{"dnu":3.87,"d02":0.1362,"M":1.4},{"dnu":3.88,"d02":0.1412,"M":1.1},
      {"dnu":3.86,"d02":0.1462,"M":1.6},{"dnu":3.87,"d02":0.1512,"M":1.25},{"dnu":3.88,"d02":0.1562,"M":1.35},{"dnu":3.86,"d02":0.1612,"M":1.15},
      {"dnu":3.87,"d02":0.1662,"M":1.0},{"dnu":3.88,"d02":0.1712,"M":1.1},{"dnu":3.86,"d02":0.1762,"M":0.85},{"dnu":3.87,"d02":0.1812,"M":1.05},
      {"dnu":3.88,"d02":0.1862,"M":0.95},{"dnu":3.86,"d02":0.1912,"M":1.0},{"dnu":3.87,"d02":0.1962,"M":0.75},{"dnu":3.88,"d02":0.2012,"M":0.95},
      {"dnu":3.86,"d02":0.2062,"M":1.05},
      {"dnu":3.84,"d02":0.1025,"M":2.45},{"dnu":3.85,"d02":0.1075,"M":1.6},{"dnu":3.83,"d02":0.1125,"M":1.05},{"dnu":3.84,"d02":0.1175,"M":1.9},
      {"dnu":3.85,"d02":0.1225,"M":1.3},{"dnu":3.83,"d02":0.1275,"M":1.45},{"dnu":3.84,"d02":0.1325,"M":2.05},{"dnu":3.85,"d02":0.1375,"M":1.2},
      {"dnu":3.83,"d02":0.1425,"M":1.3},{"dnu":3.84,"d02":0.1475,"M":1.45},{"dnu":3.85,"d02":0.1525,"M":1.15},{"dnu":3.83,"d02":0.1575,"M":1.3},
      {"dnu":3.84,"d02":0.1625,"M":1.0},{"dnu":3.85,"d02":0.1675,"M":1.1},{"dnu":3.83,"d02":0.1725,"M":0.9},{"dnu":3.84,"d02":0.1775,"M":1.15},
      {"dnu":3.85,"d02":0.1825,"M":0.95},{"dnu":3.83,"d02":0.1875,"M":1.05},{"dnu":3.84,"d02":0.1925,"M":0.9},{"dnu":3.85,"d02":0.1975,"M":1.0},
      {"dnu":3.83,"d02":0.2025,"M":0.8},
      {"dnu":3.81,"d02":0.1088,"M":1.3},{"dnu":3.82,"d02":0.1138,"M":1.75},{"dnu":3.8,"d02":0.1188,"M":0.9},{"dnu":3.81,"d02":0.1238,"M":2.0},
      {"dnu":3.82,"d02":0.1288,"M":1.55},{"dnu":3.8,"d02":0.1338,"M":1.25},{"dnu":3.81,"d02":0.1388,"M":1.85},{"dnu":3.82,"d02":0.1438,"M":1.2},
      {"dnu":3.8,"d02":0.1488,"M":1.3},{"dnu":3.81,"d02":0.1538,"M":1.1},{"dnu":3.82,"d02":0.1588,"M":1.25},{"dnu":3.8,"d02":0.1638,"M":1.0},
      {"dnu":3.81,"d02":0.1688,"M":1.15},{"dnu":3.82,"d02":0.1738,"M":0.9},{"dnu":3.8,"d02":0.1788,"M":1.05},{"dnu":3.81,"d02":0.1838,"M":1.0},
      {"dnu":3.82,"d02":0.1888,"M":0.85},{"dnu":3.8,"d02":0.1938,"M":1.0},{"dnu":3.81,"d02":0.1988,"M":0.9},{"dnu":3.82,"d02":0.2038,"M":1.05},
      {"dnu":3.78,"d02":0.11,"M":1.8},{"dnu":3.79,"d02":0.115,"M":1.25},{"dnu":3.77,"d02":0.12,"M":2.1},{"dnu":3.78,"d02":0.125,"M":1.4},
      {"dnu":3.79,"d02":0.13,"M":1.2},{"dnu":3.77,"d02":0.135,"M":1.6},{"dnu":3.78,"d02":0.14,"M":1.3},{"dnu":3.79,"d02":0.145,"M":1.2},
      {"dnu":3.77,"d02":0.15,"M":1.35},{"dnu":3.78,"d02":0.155,"M":1.05},{"dnu":3.79,"d02":0.16,"M":1.2},{"dnu":3.77,"d02":0.165,"M":1.1},
      {"dnu":3.78,"d02":0.17,"M":0.85},{"dnu":3.79,"d02":0.175,"M":1.05},{"dnu":3.77,"d02":0.18,"M":1.0},{"dnu":3.78,"d02":0.185,"M":0.9},
      {"dnu":3.79,"d02":0.19,"M":1.05},{"dnu":3.77,"d02":0.195,"M":0.95},{"dnu":3.78,"d02":0.2,"M":0.85},
      {"dnu":3.75,"d02":0.1112,"M":2.05},{"dnu":3.76,"d02":0.1162,"M":1.5},{"dnu":3.74,"d02":0.1212,"M":1.15},{"dnu":3.75,"d02":0.1262,"M":1.9},
      {"dnu":3.76,"d02":0.1312,"M":1.35},{"dnu":3.74,"d02":0.1362,"M":1.5},{"dnu":3.75,"d02":0.1412,"M":1.25},{"dnu":3.76,"d02":0.1462,"M":1.1},
      {"dnu":3.74,"d02":0.1512,"M":1.35},{"dnu":3.75,"d02":0.1562,"M":1.2},{"dnu":3.76,"d02":0.1612,"M":1.05},{"dnu":3.74,"d02":0.1662,"M":1.2},
      {"dnu":3.75,"d02":0.1712,"M":0.95},{"dnu":3.76,"d02":0.1762,"M":1.0},{"dnu":3.74,"d02":0.1812,"M":0.8},{"dnu":3.75,"d02":0.1862,"M":1.0},
      {"dnu":3.76,"d02":0.1912,"M":0.9},{"dnu":3.74,"d02":0.1962,"M":1.05},{"dnu":3.75,"d02":0.2012,"M":0.95},
      {"dnu":3.72,"d02":0.1125,"M":1.45},{"dnu":3.73,"d02":0.1175,"M":1.95},{"dnu":3.71,"d02":0.1225,"M":1.2},{"dnu":3.72,"d02":0.1275,"M":1.6},
      {"dnu":3.73,"d02":0.1325,"M":1.35},{"dnu":3.71,"d02":0.1375,"M":1.25},{"dnu":3.72,"d02":0.1425,"M":1.5},{"dnu":3.73,"d02":0.1475,"M":1.2},
      {"dnu":3.71,"d02":0.1525,"M":1.1},{"dnu":3.72,"d02":0.1575,"M":1.3},{"dnu":3.73,"d02":0.1625,"M":1.0},{"dnu":3.71,"d02":0.1675,"M":1.1},
      {"dnu":3.72,"d02":0.1725,"M":0.95},{"dnu":3.73,"d02":0.1775,"M":1.05},{"dnu":3.71,"d02":0.1825,"M":0.9},{"dnu":3.72,"d02":0.1875,"M":1.0},
      {"dnu":3.73,"d02":0.1925,"M":0.8},{"dnu":3.71,"d02":0.1975,"M":1.1},
      {"dnu":3.69,"d02":0.1138,"M":1.6},{"dnu":3.7,"d02":0.1188,"M":2.1},{"dnu":3.68,"d02":0.1238,"M":1.3},{"dnu":3.69,"d02":0.1288,"M":1.75},
      {"dnu":3.7,"d02":0.1338,"M":1.2},{"dnu":3.68,"d02":0.1388,"M":1.45},{"dnu":3.69,"d02":0.1438,"M":1.3},{"dnu":3.7,"d02":0.1488,"M":1.15},
      {"dnu":3.68,"d02":0.1538,"M":1.25},{"dnu":3.69,"d02":0.1588,"M":1.05},{"dnu":3.7,"d02":0.1638,"M":1.2},{"dnu":3.68,"d02":0.1688,"M":0.9},
      {"dnu":3.69,"d02":0.1738,"M":1.05},{"dnu":3.7,"d02":0.1788,"M":0.95},{"dnu":3.68,"d02":0.1838,"M":1.0},{"dnu":3.69,"d02":0.1888,"M":0.85},
      {"dnu":3.7,"d02":0.1938,"M":1.0},
      {"dnu":3.65,"d02":0.115,"M":1.7},{"dnu":3.66,"d02":0.12,"M":1.25},{"dnu":3.64,"d02":0.125,"M":1.5},{"dnu":3.65,"d02":0.13,"M":1.95},
      {"dnu":3.66,"d02":0.135,"M":1.3},{"dnu":3.64,"d02":0.14,"M":1.15},{"dnu":3.65,"d02":0.145,"M":1.4},{"dnu":3.66,"d02":0.15,"M":1.25},
      {"dnu":3.64,"d02":0.155,"M":1.1},{"dnu":3.65,"d02":0.16,"M":1.3},{"dnu":3.66,"d02":0.165,"M":1.0},{"dnu":3.64,"d02":0.17,"M":1.15},
      {"dnu":3.65,"d02":0.175,"M":0.9},{"dnu":3.66,"d02":0.18,"M":1.05},{"dnu":3.64,"d02":0.185,"M":0.95},{"dnu":3.65,"d02":0.19,"M":1.0},
      {"dnu":3.62,"d02":0.1162,"M":1.9},{"dnu":3.63,"d02":0.1212,"M":1.4},{"dnu":3.61,"d02":0.1262,"M":2.2},{"dnu":3.62,"d02":0.1312,"M":1.5},
      {"dnu":3.63,"d02":0.1362,"M":1.2},{"dnu":3.61,"d02":0.1412,"M":1.35},{"dnu":3.62,"d02":0.1462,"M":1.6},{"dnu":3.63,"d02":0.1512,"M":1.2},
      {"dnu":3.61,"d02":0.1562,"M":1.05},{"dnu":3.62,"d02":0.1612,"M":1.15},{"dnu":3.63,"d02":0.1662,"M":0.95},{"dnu":3.61,"d02":0.1712,"M":1.1},
      {"dnu":3.62,"d02":0.1762,"M":0.9},{"dnu":3.63,"d02":0.1812,"M":1.0},{"dnu":3.61,"d02":0.1862,"M":0.8},
      {"dnu":3.55,"d02":0.119,"M":1.55},{"dnu":3.56,"d02":0.124,"M":1.8},{"dnu":3.54,"d02":0.129,"M":1.3},{"dnu":3.55,"d02":0.134,"M":1.45},
      {"dnu":3.56,"d02":0.139,"M":1.2},{"dnu":3.54,"d02":0.144,"M":1.6},{"dnu":3.55,"d02":0.149,"M":1.3},{"dnu":3.56,"d02":0.154,"M":1.1},
      {"dnu":3.54,"d02":0.159,"M":1.25},{"dnu":3.55,"d02":0.164,"M":1.0},{"dnu":3.56,"d02":0.169,"M":0.95},{"dnu":3.54,"d02":0.174,"M":1.1},
      {"dnu":3.47,"d02":0.1215,"M":1.7},{"dnu":3.48,"d02":0.1265,"M":1.4},{"dnu":3.46,"d02":0.1315,"M":1.25},{"dnu":3.47,"d02":0.1365,"M":1.55},
      {"dnu":3.48,"d02":0.1415,"M":1.2},{"dnu":3.46,"d02":0.1465,"M":1.35},{"dnu":3.47,"d02":0.1515,"M":1.15},{"dnu":3.48,"d02":0.1565,"M":1.3},
      {"dnu":3.46,"d02":0.1615,"M":1.0},{"dnu":3.47,"d02":0.1665,"M":1.1},
      {"dnu":3.38,"d02":0.1245,"M":1.5},{"dnu":3.39,"d02":0.1295,"M":1.3},{"dnu":3.37,"d02":0.1345,"M":1.45},{"dnu":3.38,"d02":0.1395,"M":1.25},
      {"dnu":3.39,"d02":0.1445,"M":1.6},{"dnu":3.37,"d02":0.1495,"M":1.2},{"dnu":3.38,"d02":0.1545,"M":1.1},{"dnu":3.39,"d02":0.1595,"M":1.25}
    ],
    "navy": [{"dnu":0.109,"d02":0.1854},{"dnu":4.05,"d02":0.1371}],
    "orange": [{"dnu":0.109,"d02":0.1631},{"dnu":3.99,"d02":0.111}],
    "pink": [
      {"dnu":0.2665,"d02":0.25},{"dnu":0.3,"d02":0.2356},{"dnu":0.3261,"d02":0.2275},{"dnu":0.3889,"d02":0.2095},{"dnu":0.4478,"d02":0.1979},
      {"dnu":0.5157,"d02":0.1878},{"dnu":0.5936,"d02":0.1791},{"dnu":0.6961,"d02":0.1706},{"dnu":0.8754,"d02":0.1605},{"dnu":1.044,"d02":0.1542},
      {"dnu":1.337,"d02":0.1470},{"dnu":1.902,"d02":0.1394},{"dnu":2.48,"d02":0.1351},{"dnu":3.229,"d02":0.1319},{"dnu":3.991,"d02":0.1299}
    ],
    "red": [
      {"dnu":0.1953,"d02":0.1647},{"dnu":0.6811,"d02":0.1669},{"dnu":0.8451,"d02":0.1587},{"dnu":0.973,"d02":0.1525},{"dnu":1.36,"d02":0.1458},
      {"dnu":1.681,"d02":0.1458},{"dnu":2.006,"d02":0.1466},{"dnu":2.392,"d02":0.1451},{"dnu":2.755,"d02":0.1437},{"dnu":3.466,"d02":0.14},
      {"dnu":3.888,"d02":0.1462}
    ],
    "blue": [
      {"dnu":0.5418,"d02":0.1506},{"dnu":0.8158,"d02":0.158},{"dnu":0.9069,"d02":0.1582},{"dnu":1.121,"d02":0.1587},{"dnu":1.486,"d02":0.1592},
      {"dnu":1.936,"d02":0.1551},{"dnu":2.191,"d02":0.1518},{"dnu":2.523,"d02":0.1504},{"dnu":2.829,"d02":0.1533},{"dnu":3.172,"d02":0.1516},
      {"dnu":3.528,"d02":0.1603},{"dnu":3.921,"d02":0.1594}
    ],
    "errs": [
      {"dnu":0.149,"d02":0.075,"lo":0.0626,"hi":0.0873},
      {"dnu":4.515,"d02":0.0748,"lo":0.0645,"hi":0.0857}
    ],
    "cbar": [
      {"M":0.5},{"M":0.52},{"M":0.54},{"M":0.56},{"M":0.58},{"M":0.6},{"M":0.62},{"M":0.64},{"M":0.66},{"M":0.68},
      {"M":0.7},{"M":0.72},{"M":0.74},{"M":0.76},{"M":0.78},{"M":0.8},{"M":0.82},{"M":0.84},{"M":0.86},{"M":0.88},
      {"M":0.9},{"M":0.92},{"M":0.94},{"M":0.96},{"M":0.98},{"M":1.0},{"M":1.02},{"M":1.04},{"M":1.06},{"M":1.08},
      {"M":1.1},{"M":1.12},{"M":1.14},{"M":1.16},{"M":1.18},{"M":1.2},{"M":1.22},{"M":1.24},{"M":1.26},{"M":1.28},
      {"M":1.3},{"M":1.32},{"M":1.34},{"M":1.36},{"M":1.38},{"M":1.4},{"M":1.42},{"M":1.44},{"M":1.46},{"M":1.48},
      {"M":1.5},{"M":1.52},{"M":1.54},{"M":1.56},{"M":1.58},{"M":1.6},{"M":1.62},{"M":1.64},{"M":1.66},{"M":1.68},
      {"M":1.7},{"M":1.72},{"M":1.74},{"M":1.76},{"M":1.78},{"M":1.8},{"M":1.82},{"M":1.84},{"M":1.86},{"M":1.88},
      {"M":1.9},{"M":1.92},{"M":1.94},{"M":1.96},{"M":1.98},{"M":2.0},{"M":2.02},{"M":2.04},{"M":2.06},{"M":2.08},
      {"M":2.1},{"M":2.12},{"M":2.14},{"M":2.16},{"M":2.18},{"M":2.2},{"M":2.22},{"M":2.24},{"M":2.26},{"M":2.28},
      {"M":2.3},{"M":2.32},{"M":2.34},{"M":2.36},{"M":2.38},{"M":2.4},{"M":2.42},{"M":2.44},{"M":2.46},{"M":2.48},
      {"M":2.5}
    ]
  },
  "bounds": "flush",
  "spacing": 77,
  "hconcat": [
    {
      "width": 1188,
      "height": 1108,
      "resolve": {"axis": {"x": "independent", "y": "independent"}},
      "layer": [
        {
          "data": {"name": "stars"},
          "mark": {"type": "circle", "size": 165, "opacity": 1, "clip": true},
          "encoding": {
            "x": {
              "field": "dnu", "type": "quantitative",
              "scale": {"type": "log", "domain": [0.1, 5], "nice": false},
              "axis": {
                "orient": "bottom",
                "values": [0.1, 0.2, 0.3, 0.4, 0.5, 0.6, 0.7, 0.8, 0.9, 1, 2, 3, 4, 5],
                "format": "~g",
                "labelExpr": "datum.value == 1 ? '1.0' : (indexof([0.3, 0.5, 0.7, 0.9, 3, 5], datum.value) >= 0 ? '' : datum.label)",
                "labelFontSize": {"condition": {"test": "datum.value == 0.1 || datum.value == 1", "value": 40}, "value": 30},
                "tickSize": {"condition": {"test": "datum.value == 0.1 || datum.value == 1", "value": 36}, "value": 22},
                "tickWidth": 5,
                "labelPadding": 10,
                "labelFlush": false,
                "labelOverlap": false,
                "labelBound": false,
                "title": "Δν (μHz)",
                "titleFontSize": 57,
                "titlePadding": 4
              }
            },
            "y": {
              "field": "d02", "type": "quantitative",
              "scale": {"domain": [0.04, 0.25], "nice": false, "zero": false},
              "axis": {
                "orient": "left",
                "values": [0.05, 0.075, 0.1, 0.125, 0.15, 0.175, 0.2, 0.225, 0.25],
                "format": ".3f",
                "labelFontSize": 40,
                "tickSize": 34,
                "tickWidth": 5,
                "labelPadding": 12,
                "labelOverlap": false,
                "labelFlush": false,
                "title": "d₀₂",
                "titleFontSize": 55,
                "titleFontStyle": "italic",
                "titlePadding": 8
              }
            },
            "color": {
              "field": "M", "type": "quantitative",
              "scale": {
                "domain": [0.5, 0.72, 0.75, 1.18, 1.2, 1.25, 1.5, 1.78, 1.82, 2.28, 2.32, 2.5],
                "range": ["#000080", "#0000ff", "#0000ff", "#00dbff", "#00e6f7", "#14ffe2", "#7bff7b", "#eeff08", "#ffec00", "#ff1300", "#e80000", "#800000"],
                "interpolate": "rgb"
              },
              "legend": null
            }
          }
        },
        {
          "data": {"name": "navy"},
          "mark": {"type": "line", "color": "#191970", "strokeWidth": 8, "clip": true},
          "encoding": {
            "x": {
              "field": "dnu", "type": "quantitative",
              "scale": {"type": "log", "domain": [0.1, 5], "nice": false},
              "axis": {
                "orient": "top",
                "values": [0.1, 0.2, 0.3, 0.4, 0.5, 0.6, 0.7, 0.8, 0.9, 1, 2, 3, 4, 5],
                "labels": false,
                "tickSize": {"condition": {"test": "datum.value == 0.1 || datum.value == 1", "value": 36}, "value": 22},
                "tickWidth": 5,
                "title": null
              }
            },
            "y": {
              "field": "d02", "type": "quantitative",
              "scale": {"domain": [0.04, 0.25], "nice": false, "zero": false},
              "axis": {
                "orient": "right",
                "values": [0.05, 0.075, 0.1, 0.125, 0.15, 0.175, 0.2, 0.225, 0.25],
                "labels": false,
                "tickSize": 34,
                "tickWidth": 5,
                "title": null
              }
            }
          }
        },
        {
          "data": {"name": "orange"},
          "mark": {"type": "line", "color": "#ffa500", "strokeWidth": 7.5, "strokeDash": [30, 13], "clip": true},
          "encoding": {
            "x": {"field": "dnu", "type": "quantitative", "scale": {"type": "log", "domain": [0.1, 5], "nice": false}, "axis": null},
            "y": {"field": "d02", "type": "quantitative", "scale": {"domain": [0.04, 0.25], "nice": false, "zero": false}, "axis": null}
          }
        },
        {
          "data": {"name": "pink"},
          "mark": {"type": "line", "color": "#ffc0cb", "strokeWidth": 7.5, "strokeDash": [48, 12, 8, 12], "clip": true},
          "encoding": {
            "x": {"field": "dnu", "type": "quantitative", "scale": {"type": "log", "domain": [0.1, 5], "nice": false}, "axis": null},
            "y": {"field": "d02", "type": "quantitative", "scale": {"domain": [0.04, 0.25], "nice": false, "zero": false}, "axis": null}
          }
        },
        {
          "data": {"name": "red"},
          "mark": {"type": "line", "color": "#ff0000", "strokeWidth": 8, "clip": true},
          "encoding": {
            "x": {"field": "dnu", "type": "quantitative", "scale": {"type": "log", "domain": [0.1, 5], "nice": false}, "axis": null},
            "y": {"field": "d02", "type": "quantitative", "scale": {"domain": [0.04, 0.25], "nice": false, "zero": false}, "axis": null}
          }
        },
        {
          "data": {"name": "blue"},
          "mark": {"type": "line", "color": "#0000ff", "strokeWidth": 8, "clip": true},
          "encoding": {
            "x": {"field": "dnu", "type": "quantitative", "scale": {"type": "log", "domain": [0.1, 5], "nice": false}, "axis": null},
            "y": {"field": "d02", "type": "quantitative", "scale": {"domain": [0.04, 0.25], "nice": false, "zero": false}, "axis": null}
          }
        },
        {
          "data": {"name": "errs"},
          "mark": {"type": "rule", "color": "black", "strokeWidth": 4.5},
          "encoding": {
            "x": {"field": "dnu", "type": "quantitative", "scale": {"type": "log", "domain": [0.1, 5], "nice": false}, "axis": null},
            "y": {"field": "lo", "type": "quantitative", "scale": {"domain": [0.04, 0.25], "nice": false, "zero": false}, "axis": null},
            "y2": {"field": "hi"}
          }
        },
        {
          "data": {"name": "errs"},
          "mark": {"type": "tick", "color": "black", "orient": "horizontal", "size": 16, "thickness": 4.5},
          "encoding": {
            "x": {"field": "dnu", "type": "quantitative", "scale": {"type": "log", "domain": [0.1, 5], "nice": false}, "axis": null},
            "y": {"field": "lo", "type": "quantitative", "scale": {"domain": [0.04, 0.25], "nice": false, "zero": false}, "axis": null}
          }
        },
        {
          "data": {"name": "errs"},
          "mark": {"type": "tick", "color": "black", "orient": "horizontal", "size": 16, "thickness": 4.5},
          "encoding": {
            "x": {"field": "dnu", "type": "quantitative", "scale": {"type": "log", "domain": [0.1, 5], "nice": false}, "axis": null},
            "y": {"field": "hi", "type": "quantitative", "scale": {"domain": [0.04, 0.25], "nice": false, "zero": false}, "axis": null}
          }
        },
        {
          "data": {"name": "errs"},
          "mark": {"type": "circle", "color": "black", "size": 70, "opacity": 1},
          "encoding": {
            "x": {"field": "dnu", "type": "quantitative", "scale": {"type": "log", "domain": [0.1, 5], "nice": false}, "axis": null},
            "y": {"field": "d02", "type": "quantitative", "scale": {"domain": [0.04, 0.25], "nice": false, "zero": false}, "axis": null}
          }
        }
      ]
    },
    {
      "width": 55,
      "height": 1108,
      "data": {"name": "cbar"},
      "mark": {"type": "rule", "strokeWidth": 12, "clip": true},
      "encoding": {
        "y": {
          "field": "M", "type": "quantitative",
          "scale": {"domain": [0.5, 2.5], "nice": false, "zero": false},
          "axis": {
            "orient": "right",
            "values": [0.5, 0.75, 1.0, 1.25, 1.5, 1.75, 2.0, 2.25, 2.5],
            "format": ".2f",
            "labelFontSize": 40,
            "tickSize": 13,
            "tickWidth": 2.5,
            "labelPadding": 22,
            "labelOverlap": false,
            "labelFlush": false,
            "title": "M (M⊙)",
            "titleFontSize": 52,
            "titleFontStyle": "italic",
            "titleAngle": 270,
            "titlePadding": 68
          }
        },
        "color": {
          "field": "M", "type": "quantitative",
          "scale": {
            "domain": [0.5, 0.72, 0.75, 1.18, 1.2, 1.25, 1.5, 1.78, 1.82, 2.28, 2.32, 2.5],
            "range": ["#000080", "#0000ff", "#0000ff", "#00dbff", "#00e6f7", "#14ffe2", "#7bff7b", "#eeff08", "#ffec00", "#ff1300", "#e80000", "#800000"],
            "interpolate": "rgb"
          },
          "legend": null
        }
      }
    }
  ]
}
